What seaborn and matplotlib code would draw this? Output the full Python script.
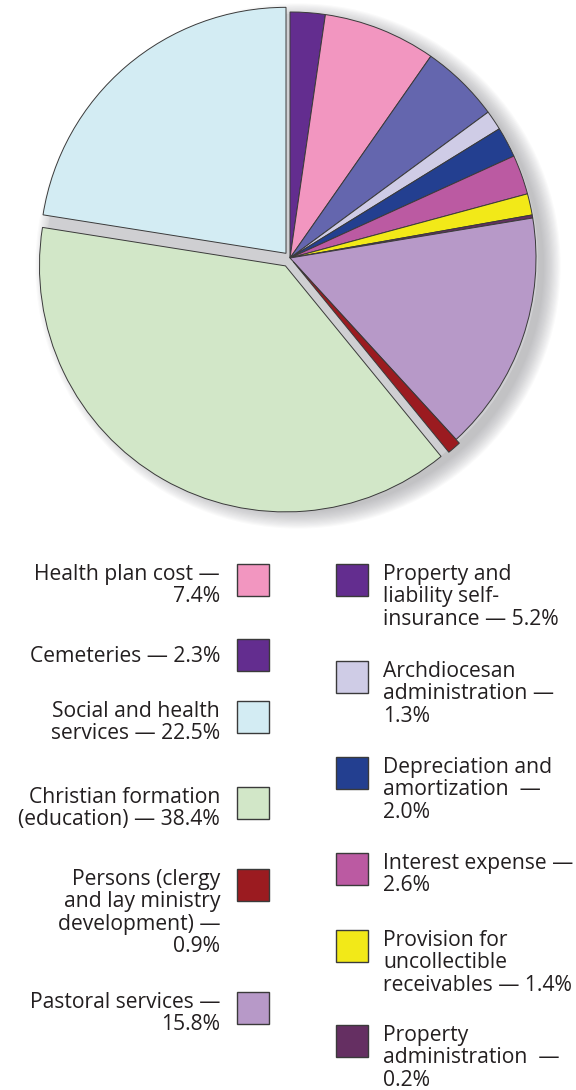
import matplotlib
matplotlib.use("Agg")
import matplotlib.pyplot as plt
from matplotlib.patches import Circle, Rectangle
import seaborn as sns

sns.set_theme(style="white")
plt.rcParams['font.family'] = ['Open Sans', 'DejaVu Sans']

# ---- data (clockwise from 12 o'clock) ----
categories = ["Cemeteries", "Health plan cost", "Property and liability self-insurance",
              "Archdiocesan administration", "Depreciation and amortization",
              "Interest expense", "Provision for uncollectible receivables",
              "Property administration", "Pastoral services",
              "Persons (clergy and lay ministry development)",
              "Christian formation (education)", "Social and health services"]
values = [2.3, 7.4, 5.2, 1.3, 2.0, 2.6, 1.4, 0.2, 15.8, 0.9, 38.4, 22.5]
slice_colors = ["#632d8f", "#f296c0", "#6466ae", "#cfcce6", "#233f90", "#bb5aa2",
                "#f2e918", "#652f62", "#b799c8", "#9b1b20", "#d2e7c8", "#d3ecf3"]
explode = [0, 0, 0, 0, 0, 0, 0, 0, 0, 0.02, 0.037, 0.025]

# legend: (category index, text lines, swatch colour)
left_items = [1, 0, 11, 10, 9, 8]
left_lines = [["Health plan cost \u2014", "7.4%"],
              ["Cemeteries \u2014 2.3%"],
              ["Social and health", "services \u2014 22.5%"],
              ["Christian formation", "(education) \u2014 38.4%"],
              ["Persons (clergy", "and lay ministry", "development) \u2014", "0.9%"],
              ["Pastoral services \u2014", "15.8%"]]
right_items = [2, 3, 4, 5, 6, 7]
right_lines = [["Property and", "liability self-", "insurance \u2014 5.2%"],
               ["Archdiocesan", "administration \u2014", "1.3%"],
               ["Depreciation and", "amortization  \u2014", "2.0%"],
               ["Interest expense \u2014", "2.6%"],
               ["Provision for", "uncollectible", "receivables \u2014 1.4%"],
               ["Property", "administration  \u2014", "0.2%"]]
# swatch colours as printed in the legend
swatch_colors = {i: c for i, c in enumerate(slice_colors)}
swatch_colors[2] = "#632d8f"

# ---- layout ----
W, H = 576, 1090
fig = plt.figure(figsize=(W / 100, H / 100), dpi=100)
R = 246.0
cx, cy = 290.0, 258.0
pie_h = 540.0
ax = fig.add_axes([0, 1 - pie_h / H, 1, pie_h / H])

# soft drop shadow
sh_dx, sh_dy = 8 / R, -8 / R
for k in range(16):
    ax.add_patch(Circle((sh_dx, sh_dy), 1.0 + k * 0.0045, facecolor="#8a8a90",
                        edgecolor="none", alpha=0.04, zorder=0))
ax.add_patch(Circle((2 / R, -2 / R), 1.0, facecolor="#cfcfd2", edgecolor="none", zorder=0.5))

wedges, _ = ax.pie(values, colors=slice_colors, explode=explode, startangle=90,
                   counterclock=False, radius=1.0,
                   wedgeprops=dict(edgecolor="#3a3a3a", linewidth=0.7))
for w in wedges:
    w.set_zorder(2)
ax.set_xlim(-cx / R, (W - cx) / R)
ax.set_ylim((cy - pie_h) / R, cy / R)
ax.set_axis_off()

# legend overlay in pixel coordinates
lg = fig.add_axes([0, 0, 1, 1], zorder=3)
lg.set_xlim(0, W)
lg.set_ylim(H, 0)
lg.set_axis_off()
lg.patch.set_alpha(0)

txt_color = "#231f20"
fs = 15.2
lh = 22.3
left_tops = [564, 639, 701, 787, 869, 992]
right_tops = [564, 661, 757, 853, 930, 1025]
sw = 32

for idx, lines, top in zip(left_items, left_lines, left_tops):
    lg.add_patch(Rectangle((237, top), sw, sw, facecolor=swatch_colors[idx],
                           edgecolor="#3a3a3a", linewidth=1.0))
    if len(lines) == 1:
        base = top + 23
    else:
        base = top + 16
    for j, t in enumerate(lines):
        lg.text(220, base + j * lh, t, ha="right", va="baseline", fontsize=fs, color=txt_color)

for idx, lines, top in zip(right_items, right_lines, right_tops):
    lg.add_patch(Rectangle((336, top), sw, sw, facecolor=swatch_colors[idx],
                           edgecolor="#3a3a3a", linewidth=1.0))
    base = top + 16
    for j, t in enumerate(lines):
        lg.text(383, base + j * lh, t, ha="left", va="baseline", fontsize=fs, color=txt_color)

fig.savefig("out.png", dpi=100)
